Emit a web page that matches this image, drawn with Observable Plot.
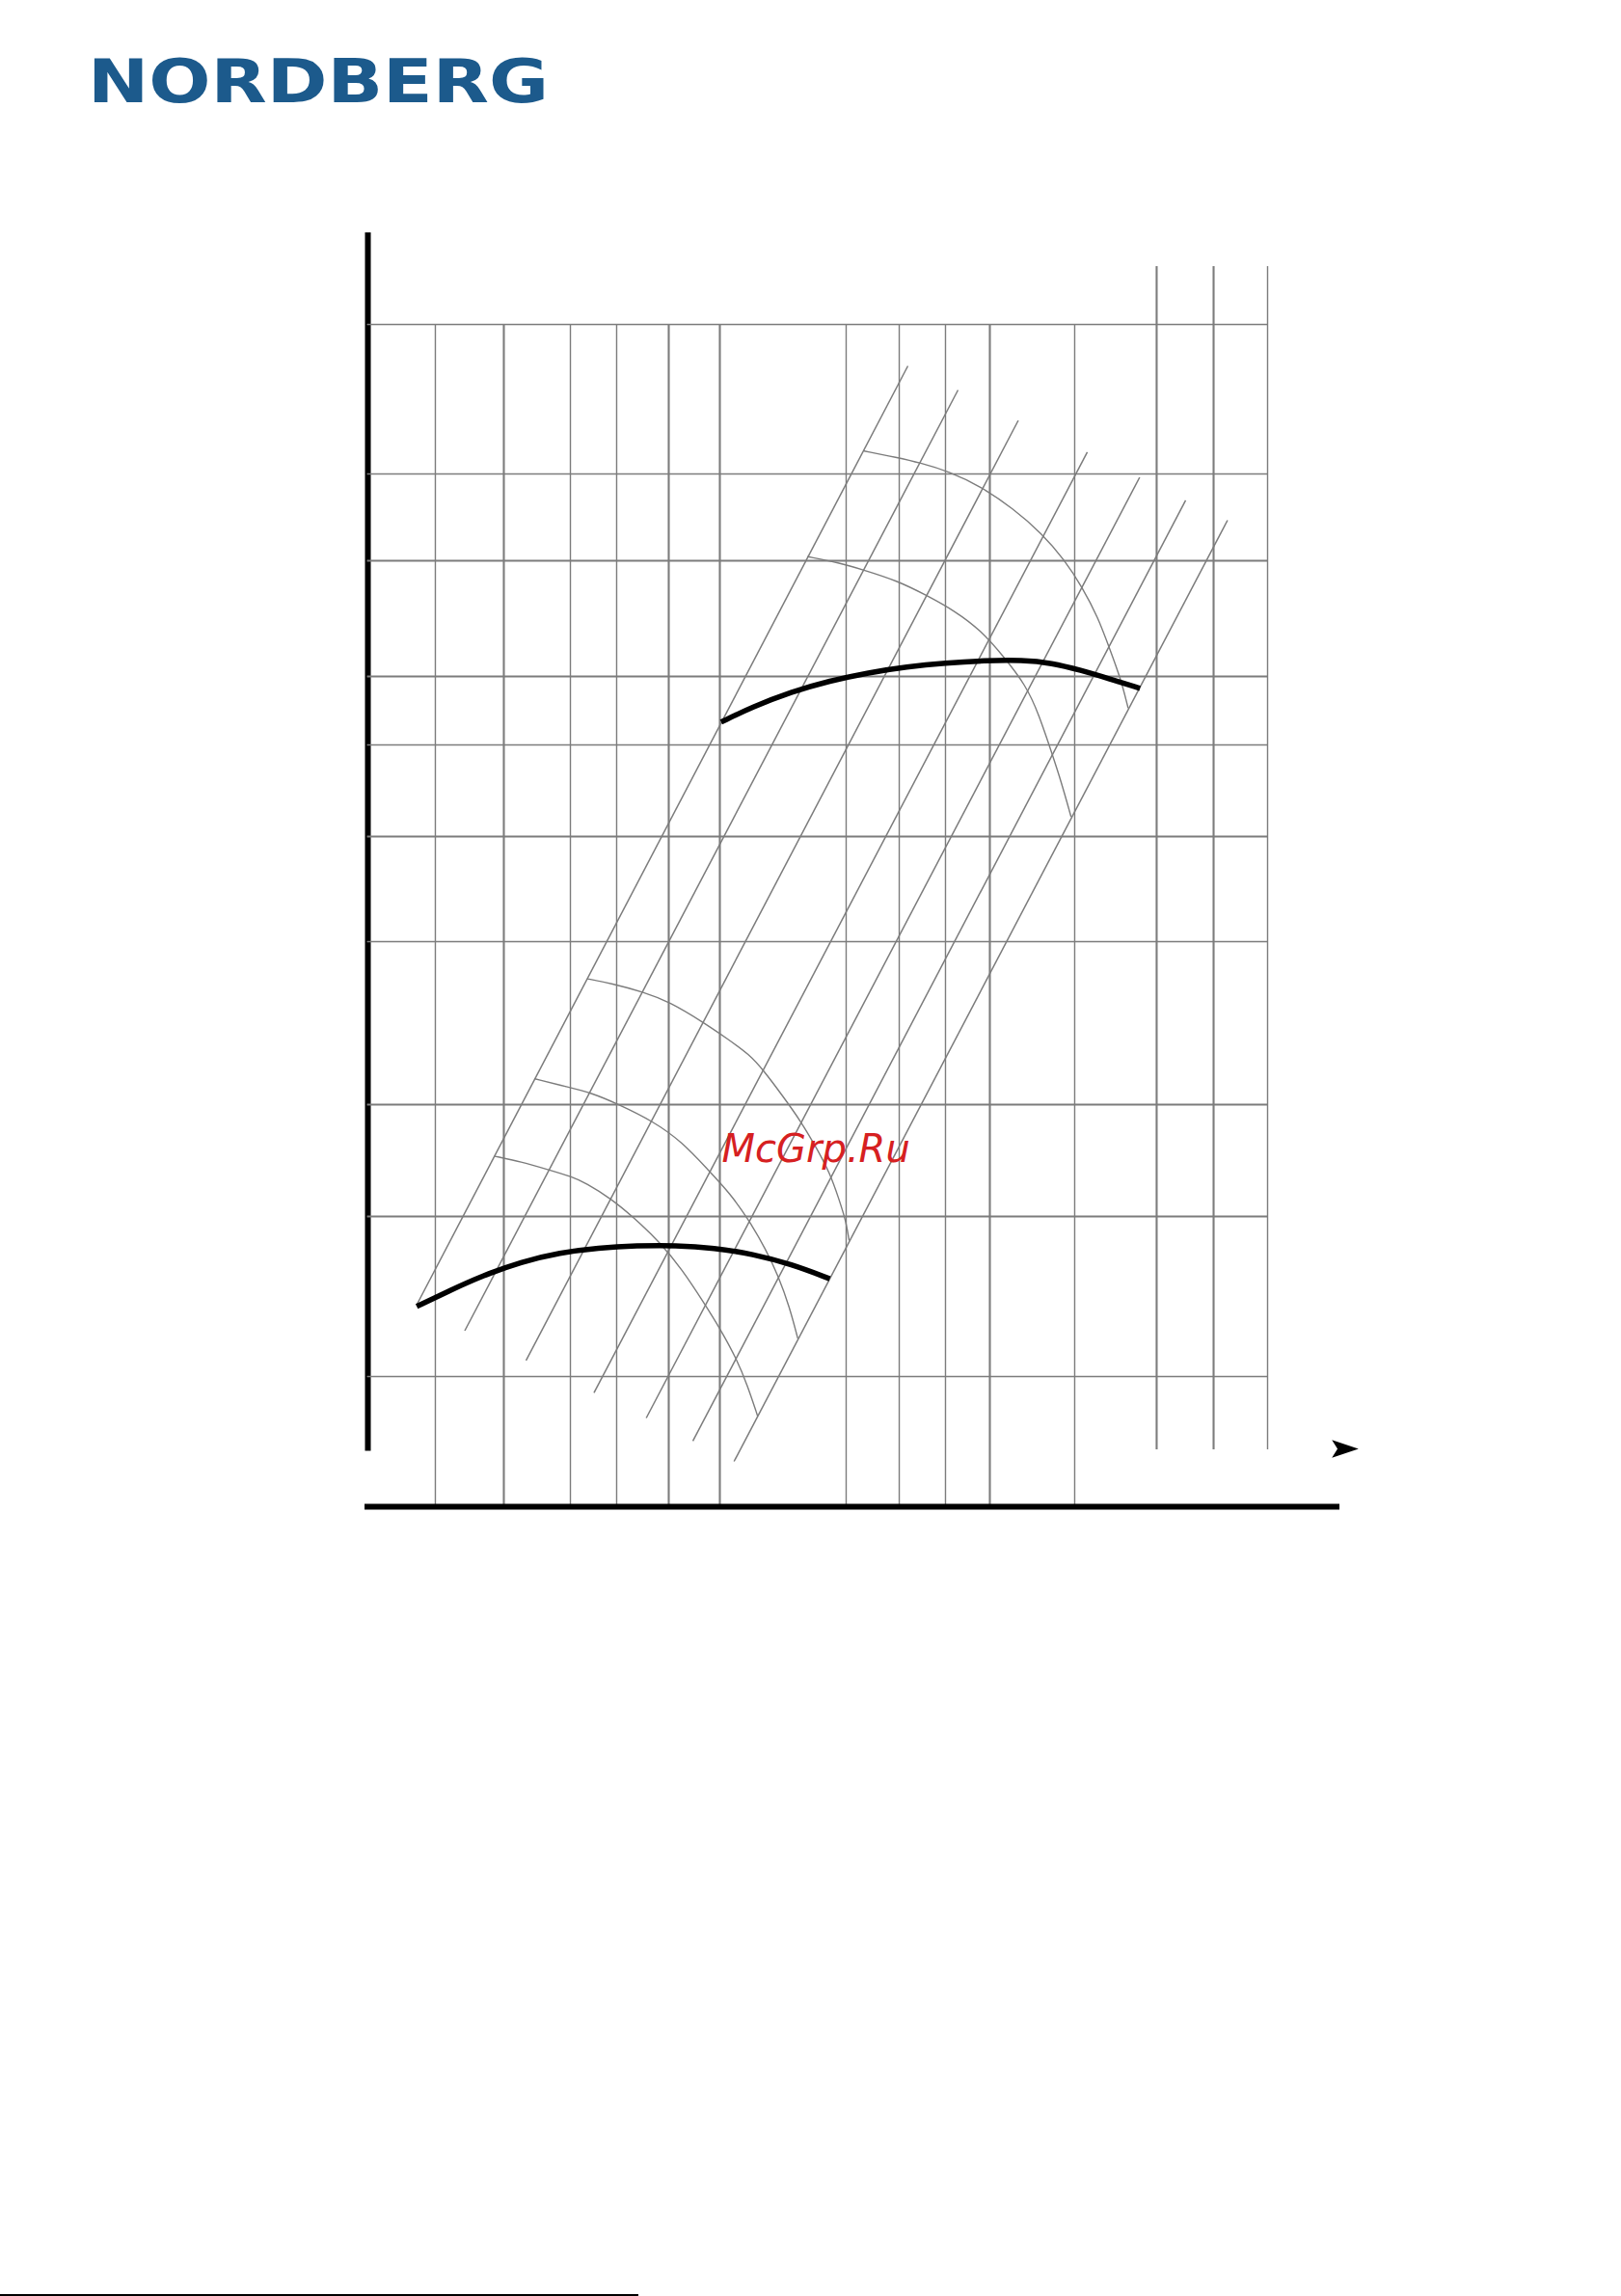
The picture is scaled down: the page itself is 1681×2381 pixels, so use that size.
<!DOCTYPE html>
<html>
<head>
<meta charset="utf-8">
<script src="https://cdn.jsdelivr.net/npm/d3@7"></script>
<script src="https://cdn.jsdelivr.net/npm/@observablehq/plot@0.6"></script>
<style>
  html, body { margin: 0; padding: 0; background: #fff; }
  #page { position: relative; width: 1681px; height: 2381px; overflow: hidden; background: #fff; }
  #chart { position: absolute; left: 0; top: 0; }
  #logo { position: absolute; left: 0; top: 0; }
  #pagerule { position: absolute; left: 0; top: 2379px; width: 662px; height: 2px; background: #000; }
</style>
</head>
<body>
<div id="page">
  <div id="chart"></div>
  <svg id="logo" width="640" height="140">
    <text x="91" y="106" textLength="478" lengthAdjust="spacingAndGlyphs"
          font-family="DejaVu Sans" font-weight="bold" font-size="62" fill="#1c5a8c">NORDBERG</text>
  </svg>
  <div id="pagerule"></div>
</div>
<script>
// ---- Data (chart units: x 0..100 across the grid, y 0..100 from axis foot to top grid line) ----
const hGridY     = [100, 86.73, 79.02, 68.75, 62.67, 54.54, 45.21, 30.74, 20.80, 6.59];
const hGridHeavy = [false, false, true, true, false, true, false, true, true, false];

const vGridX      = [7.50, 15.11, 22.51, 27.65, 33.44, 39.12, 53.16, 59.06, 64.20, 69.13, 78.56, 87.67, 94.00, 100];
const vGridHeavy  = [false, true, false, false, true, true, false, false, false, true, false, true, true, false];
const vGridBottom = [-4.97, -4.97, -4.97, -4.97, -4.97, -4.97, -4.97, -4.97, -4.97, -4.97, -4.97, 0.09, 0.09, 0.09];
const vGridTop    = [100, 100, 100, 100, 100, 100, 100, 100, 100, 100, 100, 105.14, 105.14, 105.14];

// diagonal (affinity) lines
const diagX1 = [5.41, 10.77, 17.58, 25.13, 30.94, 36.12, 40.70];
const diagY1 = [12.93, 10.66, 8.01, 5.14, 2.91, 0.86, -0.94];
const diagX2 = [60.02, 65.59, 72.29, 79.96, 85.78, 90.89, 95.55];
const diagY2 = [96.32, 94.18, 91.48, 88.66, 86.43, 84.38, 82.62];

// gray arcs
const upperArcA = [[55.17,88.76],[58.84,88.18],[61.34,87.73],[64.55,86.96],[68.13,85.62],[71.70,83.67],[74.92,81.45],[77.42,79.11],[79.39,76.69],[81.17,73.97],[82.42,71.26],[83.68,68.55],[84.49,65.98]];
const upperArcB = [[48.91,79.39],[52.41,78.83],[54.91,78.25],[58.84,77.25],[62.06,75.97],[65.27,74.55],[68.13,72.84],[70.63,70.55],[73.13,67.98],[74.57,65.41],[76.00,61.99],[77.06,59.42],[78.14,56.34]];
const lowerArcC = [[24.44,41.90],[27.04,41.50],[30.62,40.74],[33.47,39.88],[37.41,37.98],[39.90,36.61],[42.41,35.19],[44.02,33.73],[45.98,31.64],[48.12,29.27],[49.91,26.82],[51.34,24.68],[52.41,22.23],[53.13,20.40],[53.48,18.72]];
const lowerArcB = [[18.57,33.03],[22.05,32.33],[24.90,31.77],[27.76,30.80],[31.69,29.27],[34.91,27.43],[37.76,24.99],[40.27,22.85],[42.41,20.40],[44.19,17.95],[45.63,15.51],[46.87,12.76],[47.77,10.01]];
const lowerArcA = [[14.12,26.15],[17.04,25.66],[19.90,24.99],[22.75,24.32],[24.19,23.77],[27.04,22.39],[29.55,20.71],[32.40,18.57],[34.91,16.12],[37.41,13.07],[39.20,10.77],[40.98,8.17],[42.23,5.73],[43.30,3.13]];

// black pump curves
const upperCurve = [[39.26,64.70],[42.77,66.05],[47.05,67.38],[51.34,68.36],[55.63,69.09],[59.91,69.61],[64.20,69.95],[68.49,70.16],[72.78,70.21],[75.99,69.95],[79.21,69.31],[82.42,68.54],[85.82,67.70]];
const lowerCurve = [[5.43,12.82],[9.19,14.26],[12.75,15.54],[17.04,16.78],[21.33,17.59],[25.62,18.02],[29.90,18.21],[34.19,18.24],[38.48,18.02],[42.77,17.47],[47.06,16.57],[51.34,15.27]];

// axes frame
const yAxisSpan   = [-0.04, 108.13];
const xBaseY      = -4.97;
const xBaseSpan   = [-0.32, 108.04];
const arrowPos    = [108.63, 0.17];
const watermark   = {x: 39.34, y: 25.68, text: "McGrp.Ru"};

// ---- Build tables ----
const hGrid = hGridY.map((y, i) => ({y, heavy: hGridHeavy[i]}));
const vGrid = vGridX.map((x, i) => ({x, heavy: vGridHeavy[i], y1: vGridBottom[i], y2: vGridTop[i]}));
const diags = diagX1.map((x1, i) => ({x1, y1: diagY1[i], x2: diagX2[i], y2: diagY2[i]}));
const toRows = (arr, id) => arr.map(([x, y]) => ({x, y, id}));
const arcs = [
  ...toRows(upperArcA, "uA"), ...toRows(upperArcB, "uB"),
  ...toRows(lowerArcC, "lC"), ...toRows(lowerArcB, "lB"), ...toRows(lowerArcA, "lA")
];
const curves = [...toRows(upperCurve, "upper"), ...toRows(lowerCurve, "lower")];

const gray = "#7c7c7c";
const arrowHead = {
  draw(ctx) {
    ctx.moveTo(13.8, 0);
    ctx.lineTo(-13.8, -9.2);
    ctx.lineTo(-8, 0);
    ctx.lineTo(-13.8, 9.2);
    ctx.closePath();
  }
};

const chart = Plot.plot({
  width: 1681,
  height: 1700,
  marginLeft: 381,
  marginRight: 367,
  marginTop: 336,
  marginBottom: 196,
  x: {type: "linear", domain: [0, 100], axis: null},
  y: {type: "linear", domain: [0, 100], axis: null},
  style: {background: "transparent", overflow: "visible"},
  marks: [
    Plot.ruleX([0], {y1: yAxisSpan[0], y2: yAxisSpan[1], stroke: "#000", strokeWidth: 6}),
    Plot.ruleY(hGrid.filter(d => !d.heavy), {y: "y", x1: -0.05, x2: 100, stroke: gray, strokeWidth: 1.4}),
    Plot.ruleY(hGrid.filter(d => d.heavy), {y: "y", x1: -0.05, x2: 100, stroke: gray, strokeWidth: 2.1}),
    Plot.ruleX(vGrid.filter(d => !d.heavy), {x: "x", y1: "y1", y2: "y2", stroke: gray, strokeWidth: 1.4}),
    Plot.ruleX(vGrid.filter(d => d.heavy), {x: "x", y1: "y1", y2: "y2", stroke: gray, strokeWidth: 2.1}),
    Plot.link(diags, {x1: "x1", y1: "y1", x2: "x2", y2: "y2", stroke: gray, strokeWidth: 1.5}),
    Plot.line(arcs, {x: "x", y: "y", z: "id", curve: "basis", stroke: gray, strokeWidth: 1.4}),
    Plot.line(curves, {x: "x", y: "y", z: "id", curve: "basis", stroke: "#000", strokeWidth: 5.5, strokeLinecap: "butt"}),
    Plot.ruleY([xBaseY], {x1: xBaseSpan[0], x2: xBaseSpan[1], stroke: "#000", strokeWidth: 6}),
    Plot.dot([{x: arrowPos[0], y: arrowPos[1]}], {x: "x", y: "y", symbol: arrowHead, fill: "#000", stroke: "none"}),
    Plot.text([watermark], {x: "x", y: "y", text: "text", textAnchor: "start", lineAnchor: "bottom",
      fontFamily: "DejaVu Sans", fontSize: 40, fontStyle: "oblique", fill: "#d62021"})
  ]
});
document.getElementById("chart").appendChild(chart);
</script>
</body>
</html>
